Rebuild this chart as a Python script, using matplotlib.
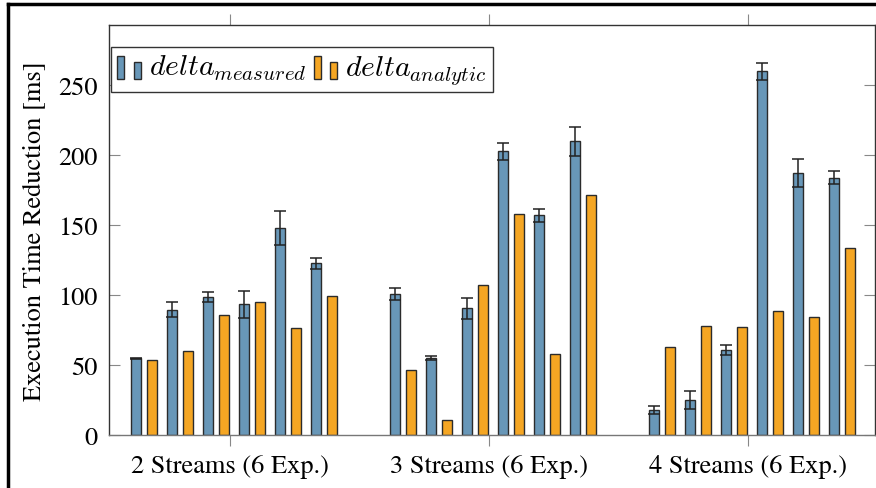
import numpy as np
import matplotlib
matplotlib.use("Agg")
import matplotlib.pyplot as plt
from matplotlib.patches import Rectangle
from matplotlib.lines import Line2D

plt.rcParams['font.family'] = ['STIXGeneral', 'DejaVu Serif']
plt.rcParams['mathtext.fontset'] = 'cm'

groups = ['2 Streams (6 Exp.)', '3 Streams (6 Exp.)', '4 Streams (6 Exp.)']

# six experiments per group, mean of measured reduction with its spread
measured = [
    [54.8, 89.5, 98.6, 93.3, 148.1, 122.6],
    [100.5, 55.2, 90.5, 202.6, 156.9, 209.8],
    [18.1, 25.0, 60.7, 259.8, 187.1, 184.0],
]
measured_err = [
    [0.5, 5.4, 3.3, 9.4, 12.0, 4.2],
    [4.3, 1.5, 7.5, 6.4, 4.6, 10.2],
    [2.8, 6.1, 3.7, 6.2, 9.8, 4.9],
]
analytic = [
    [53.6, 59.8, 85.5, 95.2, 76.2, 99.3],
    [46.7, 10.7, 106.9, 157.6, 57.9, 171.2],
    [63.1, 77.6, 77.4, 88.8, 84.5, 133.3],
]

blue = '#6897b8'
orange = '#f5a623'
edge = '#2b2b2b'

W, H = 876, 489
fig = plt.figure(figsize=(W / 100, H / 100), dpi=100)
ax = fig.add_axes([109 / W, (H - 436) / H, 766 / W, 410 / H])

px = 1 / 259.0  # one pixel in x data units
bar_w = 10.5 * px
for g in range(3):
    for k in range(6):
        xb = g + (-94 + 36 * k) * px
        xo = g + (-78 + 36 * k) * px
        ax.bar(xb, measured[g][k], width=bar_w, color=blue, edgecolor=edge,
               linewidth=1.0, zorder=2)
        ax.bar(xo, analytic[g][k], width=bar_w, color=orange, edgecolor=edge,
               linewidth=1.0, zorder=2)
        ax.errorbar(xb, measured[g][k], yerr=measured_err[g][k], fmt='none',
                    ecolor='#222222', elinewidth=1.1, capsize=4, capthick=1.1,
                    zorder=3)

ax.set_xlim(-121 * px, 645 * px)
ax.set_ylim(0, 293)
ax.set_yticks([0, 50, 100, 150, 200, 250])
ax.set_xticks(range(3))
ax.set_xticklabels(groups)
ax.set_ylabel('Execution Time Reduction [ms]', fontsize=19, labelpad=9)

ax.tick_params(axis='y', direction='in', length=8, width=0.8, color='#888888',
               labelsize=19, pad=8, right=True)
ax.tick_params(axis='x', direction='out', length=8, width=0.8, color='#888888',
               labelsize=19, pad=6, top=True)
for s in ax.spines.values():
    s.set_linewidth(1.0)
    s.set_color('#333333')
ax.spines['bottom'].set_color('#777777')


class PairHandler:
    # two small bars side by side, the way pgfplots draws ybar legend images
    def __init__(self, color):
        self.color = color

    def legend_artist(self, legend, orig_handle, fontsize, handlebox):
        x0, y0 = -handlebox.xdescent, -handlebox.ydescent - 3
        tr = handlebox.get_transform()
        r1 = Rectangle((x0, y0), 5, 16.5, facecolor=self.color,
                       edgecolor=edge, linewidth=1.0, transform=tr)
        r2 = Rectangle((x0 + 12, y0), 5, 12.5, facecolor=self.color,
                       edgecolor=edge, linewidth=1.0, transform=tr)
        handlebox.add_artist(r1)
        handlebox.add_artist(r2)
        return r1


h1 = Line2D([], [])
h2 = Line2D([], [])
leg = ax.legend([h1, h2], [r'$delta_{measured}$', r'$delta_{analytic}$'],
                handler_map={h1: PairHandler(blue), h2: PairHandler(orange)},
                loc='upper left', bbox_to_anchor=(0.003, 0.947),
                borderaxespad=0, ncol=2, fontsize=21.5, handlelength=0.8,
                handleheight=0.7, handletextpad=0.25, columnspacing=0.25,
                borderpad=0.2, fancybox=False, framealpha=1,
                edgecolor='#333333')
leg.get_frame().set_linewidth(1.0)

# thick frame around the whole figure
fig.add_artist(Line2D([8 / W, 1.0], [1 - 5 / H, 1 - 5 / H], color='black',
                      linewidth=2.5, transform=fig.transFigure))
fig.add_artist(Line2D([8 / W, 8 / W], [0, 1 - 5 / H], color='black',
                      linewidth=2.5, transform=fig.transFigure))

fig.savefig('out.png', dpi=100)
